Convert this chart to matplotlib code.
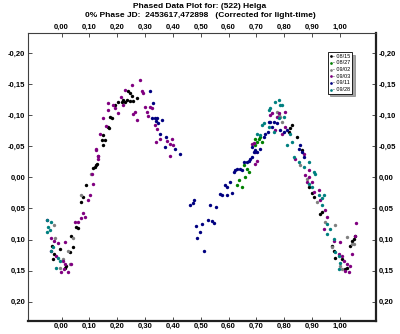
import matplotlib
matplotlib.use("Agg")
import matplotlib.pyplot as plt
from matplotlib.ticker import FuncFormatter

# phase / magnitude per night
p_0815 = [-0.034, -0.027, -0.006, -0.031, 0.034, 0.041, 0.029, 0.053, 0.059, 0.071, 0.077, 0.089,
          0.119, 0.125, 0.113, 0.012, 0.017,
          0.240, 0.246, 0.253, 0.222, 0.217, 0.228, 0.235, 0.204, 0.271, 0.192, 0.246, 0.258,
          0.174, 0.181, 0.165, 0.171, 0.150, 0.156, 0.145, 0.148, 0.127,
          0.828, 0.822, 0.846, 0.816, 0.888, 0.864, 0.900, 0.906, 0.930, 0.936, 0.972, 0.978,
          0.984, 1.008, 1.026, 1.020, 1.044, 1.050, 1.056, 1.038]
m_0815 = [0.110, 0.123, 0.115, 0.131, 0.094, 0.112, 0.120, 0.080, 0.082, 0.040, 0.032, 0.013,
          -0.017, -0.019, -0.015, 0.145, 0.142,
          -0.138, -0.135, -0.130, -0.124, -0.121, -0.121, -0.124, -0.121, -0.127, -0.116, -0.123, -0.123,
          -0.097, -0.095, -0.081, -0.079, -0.068, -0.060, -0.060, -0.052, -0.021,
          -0.084, -0.079, -0.065, -0.073, 0.016, -0.044, 0.026, 0.032, 0.059, 0.056, 0.110, 0.118,
          0.129, 0.131, 0.145, 0.147, 0.102, 0.099, 0.095, 0.110]

p_0827 = [0.654, 0.666, 0.672, 0.660, 0.636, 0.630, 0.648, 0.702, 0.708, 0.714, 0.696, 0.720, 0.696]
m_0827 = [-0.019, -0.014, -0.009, 0.000, 0.004, 0.013, 0.016, -0.057, -0.062, -0.065, -0.052, -0.057, -0.061]

p_0902 = [-0.027, -0.024, 0.005, -0.006, 0.029, 0.023, 0.041, 0.071, 0.105,
          0.774, 0.786, 0.792, 0.780, 0.858, 0.882, 0.918, 0.948, 0.984, 0.972, 1.002, 1.008,
          1.026, 1.044, 1.050]
m_0902 = [0.077, 0.098, 0.131, 0.145, 0.139, 0.118, 0.098, 0.029, -0.006,
          -0.105, -0.097, -0.089, -0.100, -0.019, 0.002, 0.040, 0.072, 0.077, 0.112, 0.142, 0.147,
          0.096, 0.107, 0.107]

p_0903 = [-0.039, -0.027, -0.013, -0.039, -0.019, 0.005, 0.012, -0.001, 0.009, 0.021, 0.035, 0.012,
          0.047, 0.059, 0.071, 0.077, 0.083, 0.095, 0.101, 0.113, 0.110, 0.129, 0.123, -0.051,
          0.282, 0.253, 0.228, 0.288, 0.294, 0.213, 0.168, 0.186, 0.192, 0.222, 0.165, 0.204,
          0.258, 0.264, 0.150, 0.271, 0.300, 0.318, 0.324, 0.306, 0.312, 0.336, 0.342, 0.354,
          0.378, 0.388, 0.396, 0.402, 0.340, 0.390, 0.160, 0.138, 0.124, 0.132, 0.129,
          0.684, 0.690, 0.702, 0.696, 0.750, 0.774, 0.780, 0.768, 0.792, 0.804, 0.696, 0.756,
          0.870, 0.840, 0.888, 0.876, 0.888, 0.882, 0.900, 0.906, 0.924, 0.930, 0.948, 0.954,
          0.942, 0.978, 1.002, 0.996, 1.008, 1.026, 1.038, 1.020, 1.032, 1.056, 1.059, 1.044,
          1.014, 0.804]
m_0903 = [0.098, 0.102, 0.106, 0.118, 0.126, 0.134, 0.139, 0.153, 0.148, 0.153, 0.139, 0.104,
          0.072, 0.072, 0.066, 0.058, 0.064, 0.037, 0.029, 0.010, -0.006, -0.035, -0.044, 0.069,
          -0.156, -0.148, -0.140, -0.138, -0.135, -0.129, -0.119, -0.116, -0.112, -0.117, -0.108, -0.103,
          -0.101, -0.105, -0.095, -0.092, -0.113, -0.113, -0.112, -0.105, -0.099, -0.084, -0.077, -0.061,
          -0.058, -0.053, -0.061, -0.052, -0.056, -0.035, -0.083, -0.070, -0.046, -0.035, -0.030,
          -0.054, -0.055, -0.027, -0.022, -0.100, -0.097, -0.103, -0.076, -0.070, -0.081, -0.041, -0.103,
          -0.038, -0.030, -0.011, -0.003, 0.000, 0.008, 0.008, 0.024, 0.021, 0.037, 0.053, 0.064,
          0.083, 0.102, 0.104, 0.123, 0.126, 0.139, 0.142, 0.150, 0.153, 0.094, 0.074, 0.123,
          0.134, -0.105]

p_0911 = [0.316, 0.330, 0.324, 0.336, 0.342, 0.340, 0.360, 0.348, 0.352, 0.376, 0.372, 0.408, 0.426,
          0.477, 0.472, 0.462, 0.534, 0.556, 0.570, 0.576, 0.596, 0.612, 0.484, 0.504, 0.496,
          0.488, 0.526, 0.540, 0.549, 0.513,
          0.588, 0.606, 0.594, 0.618, 0.624, 0.630, 0.640, 0.648, 0.654, 0.666, 0.672, 0.678,
          0.684, 0.690, 0.696, 0.704, 0.714, 0.684, 0.726, 0.732, 0.740, 0.756, 0.744, 0.762,
          0.774, 0.786, 0.798, 0.810, 0.750, 0.858, 0.852, 0.864, 0.870]
m_0911 = [-0.139, -0.119, -0.096, -0.095, -0.096, -0.090, -0.092, -0.087, -0.070, -0.065, -0.049, -0.045, -0.038,
          0.036, 0.041, 0.045, 0.044, 0.048, 0.027, 0.029, 0.029, 0.025, 0.079, 0.075, 0.088,
          0.097, 0.069, 0.070, 0.073, 0.119,
          0.013, 0.008, 0.016, -0.009, -0.012, -0.014, -0.013, -0.011, -0.025, -0.025, -0.027, -0.030,
          -0.033, -0.041, -0.044, -0.041, -0.046, -0.049, -0.065, -0.070, -0.073, -0.081, -0.089, -0.089,
          -0.087, -0.076, -0.073, -0.076, -0.089, -0.052, -0.046, -0.041, -0.033]

p_0928 = [-0.052, -0.039, -0.049, -0.052, -0.042, -0.031, -0.037, -0.013, -0.019, -0.006,
          0.768, 0.780, 0.786, 0.750, 0.720, 0.702, 0.714, 0.810, 0.780, 0.744, 0.762, 0.792,
          0.744, 0.798, 0.726, 0.822, 0.828, 0.834, 0.852, 0.870, 0.888, 0.906, 0.912, 0.888,
          0.900, 0.924, 0.936, 0.942, 0.936, 0.954, 0.966, 0.954, 0.978, 0.984, 0.996, 1.002, 0.996]
m_0928 = [0.069, 0.072, 0.080, 0.088, 0.085, 0.112, 0.118, 0.129, 0.145, 0.134,
          -0.121, -0.124, -0.116, -0.111, -0.084, -0.070, -0.068, -0.052, -0.095, -0.081, -0.073, -0.116,
          -0.108, -0.097, -0.087, -0.070, -0.057, -0.033, -0.025, -0.017, -0.025, -0.009, -0.006, 0.011,
          0.016, 0.029, 0.034, 0.029, 0.044, 0.075, 0.083, 0.091, 0.099, 0.120, 0.126, 0.137, 0.147]

nights = ["08/15", "08/27", "09/02", "09/03", "09/11", "09/28"]
colors = ["#000000", "#008000", "#808080", "#800080", "#000080", "#008080"]
phases = [p_0815, p_0827, p_0902, p_0903, p_0911, p_0928]
mags = [m_0815, m_0827, m_0902, m_0903, m_0911, m_0928]

xticks = [0.0, 0.1, 0.2, 0.3, 0.4, 0.5, 0.6, 0.7, 0.8, 0.9, 1.0]
yticks = [-0.20, -0.15, -0.10, -0.05, 0.0, 0.05, 0.10, 0.15, 0.20]

plt.rcParams['font.family'] = ['Liberation Sans', 'DejaVu Sans']

fig = plt.figure(figsize=(4.0, 3.34), dpi=100)
ax = fig.add_axes([28/400, 1 - 321/334, 348/400, 288/334])

for lab, c, p, m in zip(nights, colors, phases, mags):
    ax.scatter(p, m, s=6, color=c, linewidths=0, label="- " + lab, zorder=3)

ax.set_xlim(-0.121, 1.13)
ax.set_ylim(0.231, -0.232)

comma = FuncFormatter(lambda v, pos: ("%.2f" % v).replace(".", ","))
ax.set_xticks(xticks)
ax.set_yticks(yticks)
ax.xaxis.set_major_formatter(comma)
ax.yaxis.set_major_formatter(comma)
ax.tick_params(axis="x", direction="in", length=3, width=0.6, top=True, labeltop=True,
               labelsize=5.5, pad=1.5, colors="#303030", labelcolor="black")
ax.tick_params(axis="y", direction="in", length=3, width=0.6, right=True, labelright=True,
               labelsize=5.5, pad=2, colors="#303030", labelcolor="black")
for t in ax.get_xticklabels() + ax.get_yticklabels():
    t.set_fontweight("bold")

for side in ["left", "top"]:
    ax.spines[side].set_linewidth(0.8)
    ax.spines[side].set_color("#404040")
for side in ["right", "bottom"]:
    ax.spines[side].set_linewidth(1.6)
    ax.spines[side].set_color("#202020")

fig.text(0.5, 1 - 6.5/334, "Phased Data Plot for: (522) Helga", ha="center", va="center",
         fontsize=6, fontweight="bold")
fig.text(0.5, 1 - 15.5/334, "0% Phase JD:  2453617,472898   (Corrected for light-time)",
         ha="center", va="center", fontsize=6, fontweight="bold")

leg = ax.legend(loc="upper right", bbox_to_anchor=(0.931, 0.934), fontsize=4, frameon=True,
                fancybox=False, shadow=True, edgecolor="black", borderpad=0.3,
                labelspacing=0.3, handlelength=0.5, handletextpad=0.2, markerscale=0.8,
                borderaxespad=0)
leg.get_frame().set_linewidth(0.6)

fig.savefig("out.png", dpi=100)
